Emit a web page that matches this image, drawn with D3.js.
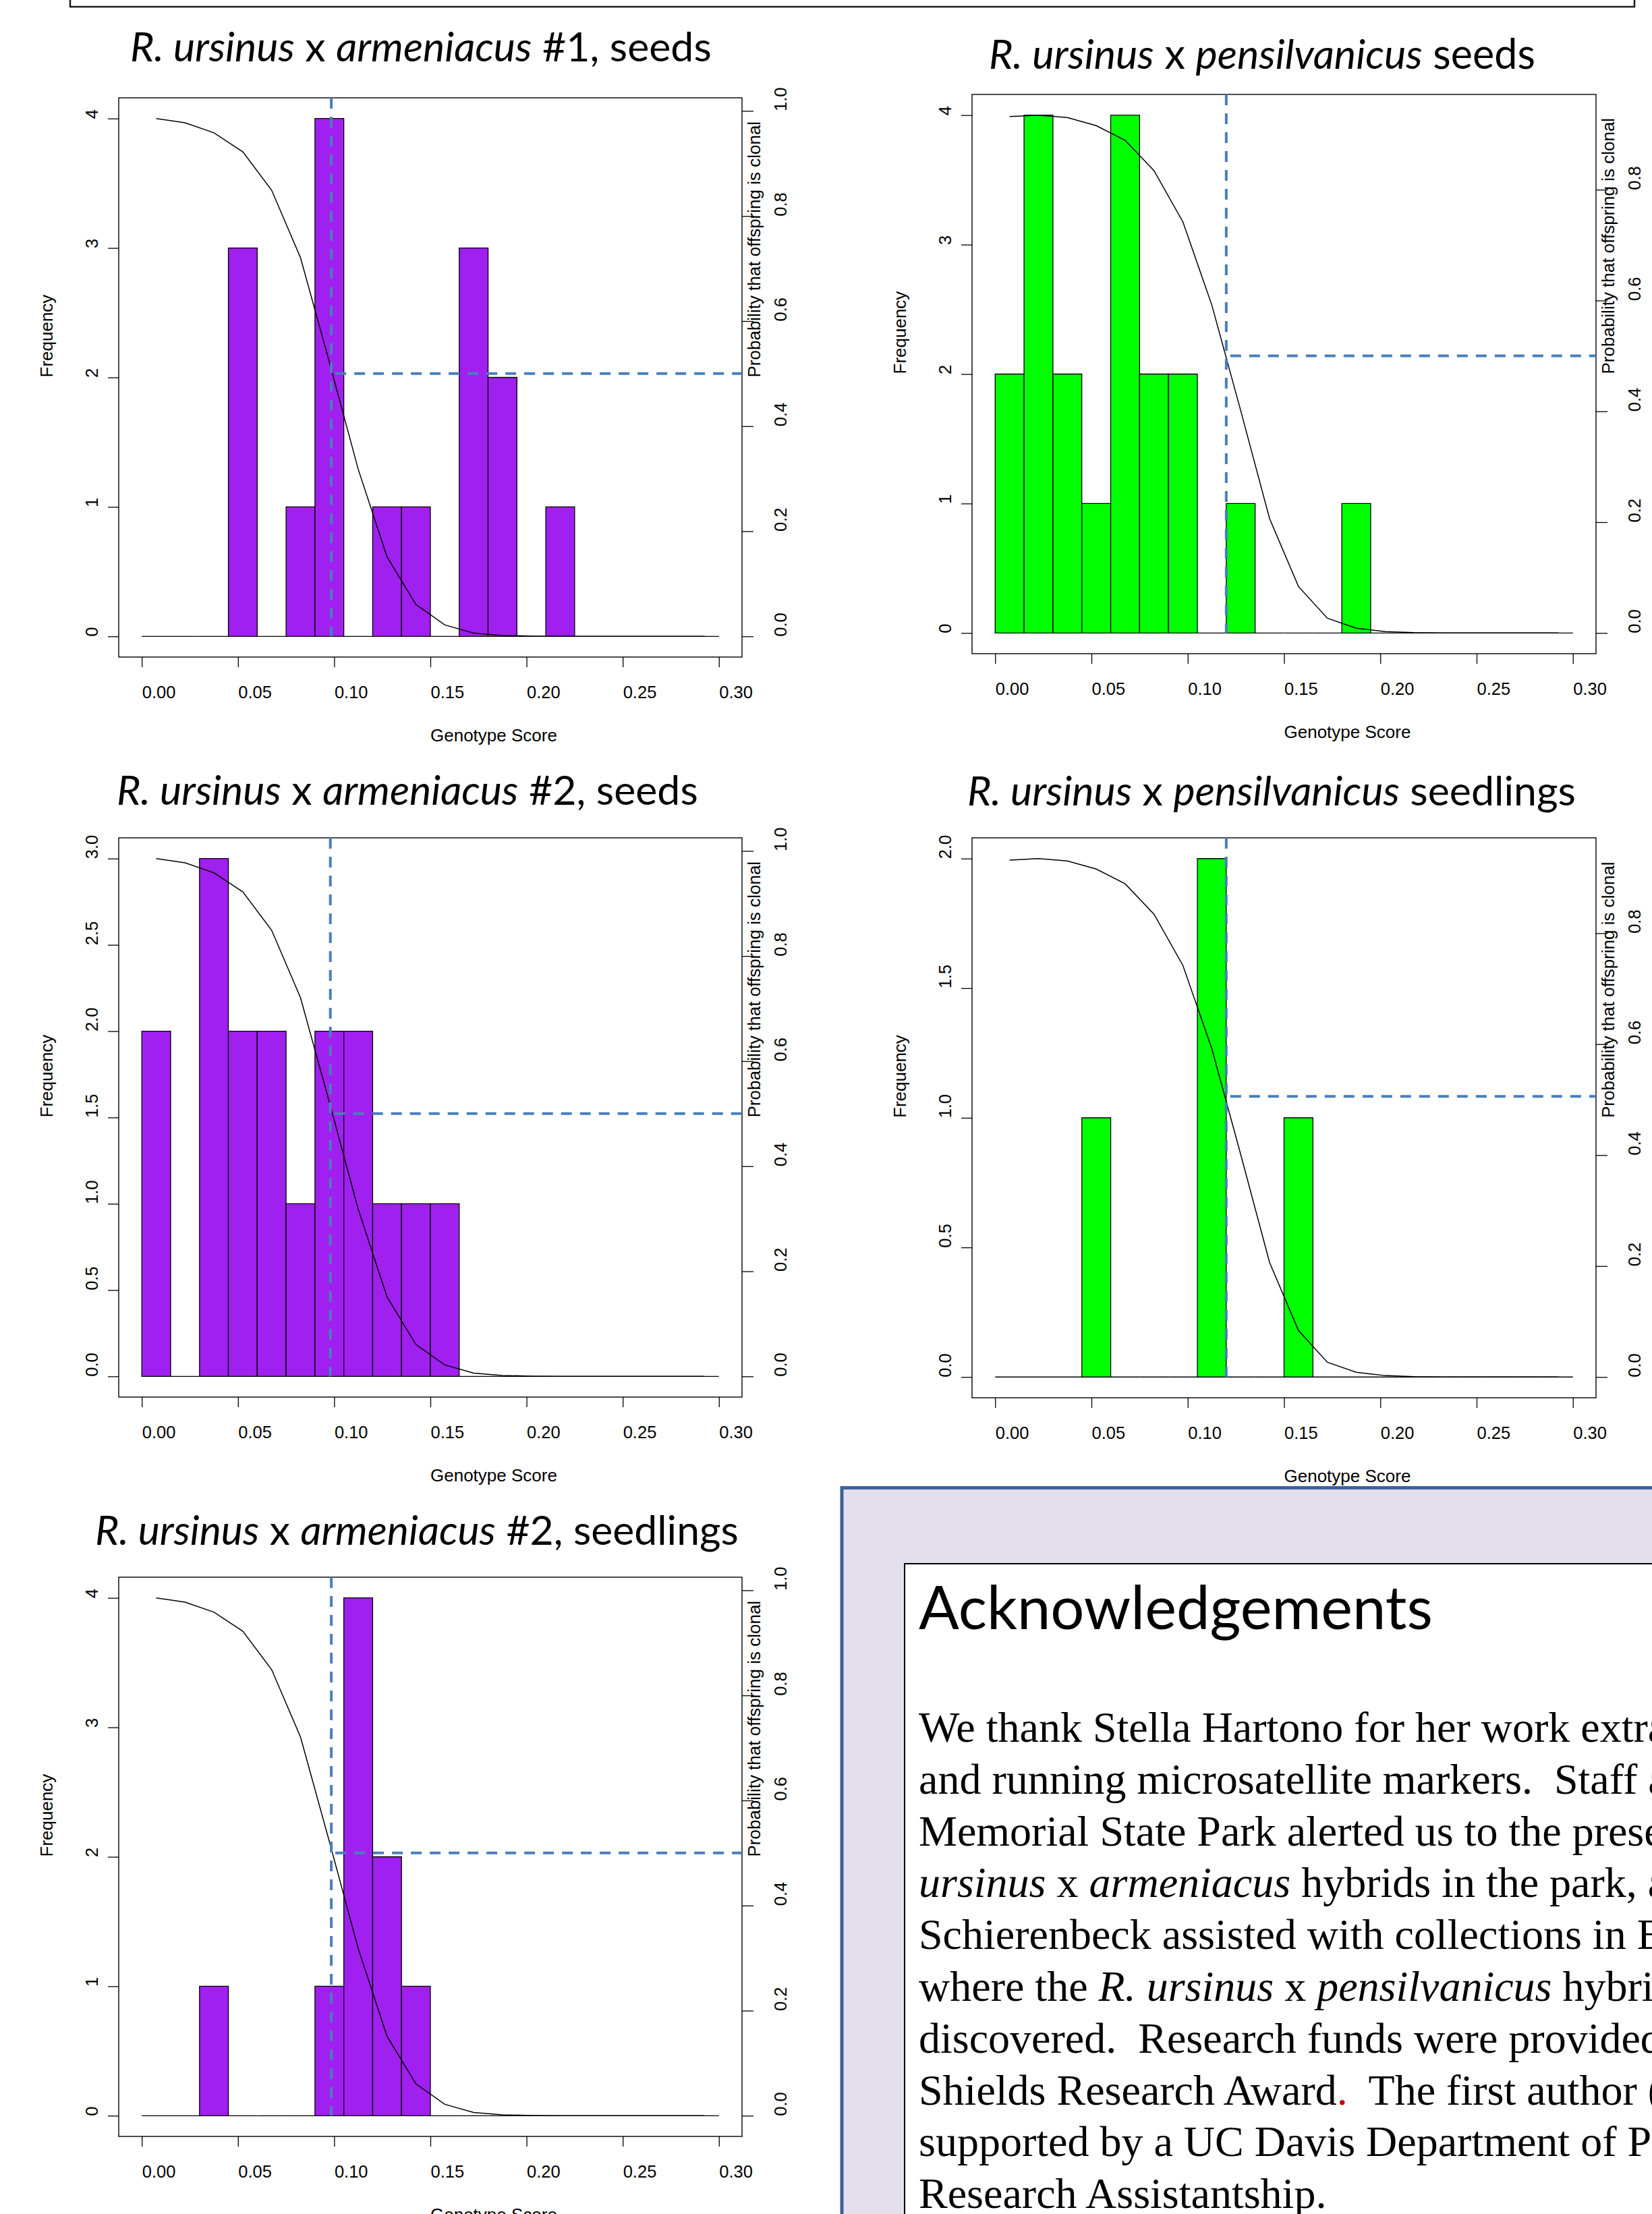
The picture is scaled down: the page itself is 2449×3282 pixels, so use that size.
<!DOCTYPE html>
<html>
<head>
<meta charset="utf-8">
<script src="https://cdn.jsdelivr.net/npm/d3@7"></script>
<style>
html, body { margin: 0; padding: 0; background: #fff; }
svg { display: block; }
text { white-space: pre; }
</style>
</head>
<body>
<svg id="chart" width="2449" height="3282"></svg>
<script>
// ---------------- DATA ----------------
// histogram bin edges (Genotype Score)
const binEdges = [0, 0.015, 0.03, 0.045, 0.06, 0.075, 0.09, 0.105, 0.12, 0.135, 0.15,
                  0.165, 0.18, 0.195, 0.21, 0.225, 0.24, 0.255, 0.27, 0.285, 0.30];
// bin midpoints, where the probability curve is evaluated
const curveX = [0.0075, 0.0225, 0.0375, 0.0525, 0.0675, 0.0825, 0.0975, 0.1125, 0.1275, 0.1425,
                0.1575, 0.1725, 0.1875, 0.2025, 0.2175, 0.2325, 0.2475, 0.2625, 0.2775, 0.2925];

// frequencies per bin
const countsArm1Seeds      = [0, 0, 0, 3, 0, 1, 4, 0, 1, 1, 0, 3, 2, 0, 1, 0, 0, 0, 0, 0];
const countsPensSeeds      = [2, 4, 2, 1, 4, 2, 2, 0, 1, 0, 0, 0, 1, 0, 0, 0, 0, 0, 0, 0];
const countsArm2Seeds      = [2, 0, 3, 2, 2, 1, 2, 2, 1, 1, 1, 0, 0, 0, 0, 0, 0, 0, 0, 0];
const countsPensSeedlings  = [0, 0, 0, 1, 0, 0, 0, 2, 0, 0, 1, 0, 0, 0, 0, 0, 0, 0, 0, 0];
const countsArm2Seedlings  = [0, 0, 1, 0, 0, 0, 1, 4, 2, 1, 0, 0, 0, 0, 0, 0, 0, 0, 0, 0];

// probability that offspring is clonal
const curveArmeniacus   = [0.9855, 0.9774, 0.9584, 0.9222, 0.849, 0.7206, 0.5217, 0.318, 0.151, 0.0606,
                           0.0217, 0.0063, 0.0018, 0.0004, 0, 0, 0, 0, 0, 0];
const curvePensilvanicus = [0.9319, 0.9345, 0.9302, 0.9156, 0.889, 0.8343, 0.7418, 0.5919, 0.4013, 0.2064,
                            0.0839, 0.0266, 0.0086, 0.0026, 0.0007, 0, 0, 0, 0, 0];

// thresholds (genotype score, probability) marked by the dashed lines
const thresholdArm1Seeds     = [0.0985, 0.5];
const thresholdPensSeeds     = [0.12, 0.5];
const thresholdArm2Seeds     = [0.098, 0.5];
const thresholdPensSeedlings = [0.12, 0.506];
const thresholdArm2Seedlings = [0.0985, 0.5];

// tick values / labels
const xTicks = [0, 0.05, 0.10, 0.15, 0.20, 0.25, 0.30];
const xTickLabels = ["0.00", "0.05", "0.10", "0.15", "0.20", "0.25", "0.30"];
const freqTicksInt = [0, 1, 2, 3, 4];
const freqLabelsInt = ["0", "1", "2", "3", "4"];
const freqTicks3 = [0, 0.5, 1, 1.5, 2, 2.5, 3];
const freqLabels3 = ["0.0", "0.5", "1.0", "1.5", "2.0", "2.5", "3.0"];
const freqTicks2 = [0, 0.5, 1, 1.5, 2];
const freqLabels2 = ["0.0", "0.5", "1.0", "1.5", "2.0"];
const probTicks = [0, 0.2, 0.4, 0.6, 0.8, 1.0];
const probLabels = ["0.0", "0.2", "0.4", "0.6", "0.8", "1.0"];

// titles: [text, italic?]
const title1 = [["R. ursinus", true], [" x ", false], ["armeniacus", true], [" #1, seeds", false]];
const title2 = [["R. ursinus", true], [" x ", false], ["pensilvanicus", true], [" seeds", false]];
const title3 = [["R. ursinus", true], [" x ", false], ["armeniacus", true], [" #2, seeds", false]];
const title4 = [["R. ursinus", true], [" x ", false], ["pensilvanicus", true], [" seedlings", false]];
const title5 = [["R. ursinus", true], [" x ", false], ["armeniacus", true], [" #2, seedlings", false]];

const ackHeading = "Acknowledgements";
// segments: [text, style] style: n normal, i italic, r red
const ackLines = [
  [["We thank Stella Hartono for her work extra", "n"]],
  [["and running microsatellite markers.  Staff a", "n"]],
  [["Memorial State Park alerted us to the prese", "n"]],
  [["ursinus", "i"], [" x ", "n"], ["armeniacus", "i"], [" hybrids in the park, a", "n"]],
  [["Schierenbeck assisted with collections in B", "n"]],
  [["where the ", "n"], ["R. ursinus", "i"], [" x ", "n"], ["pensilvanicus", "i"], [" hybri", "n"]],
  [["discovered.  Research funds were provided", "n"]],
  [["Shields Research Award", "n"], [".", "r"], ["  The first author (", "n"]],
  [["supported by a UC Davis Department of Pl", "n"]],
  [["Research Assistantship.", "n"]]
];

// ---------------- LAYOUT ----------------
const panels = [
  { counts: countsArm1Seeds, curve: curveArmeniacus, thr: thresholdArm1Seeds, color: "#A020F0",
    fTicks: freqTicksInt, fLabels: freqLabelsInt, title: title1,
    left: 176, right: 1100, top: 145, bottom: 974, titleX: 193, titleY: 91, titleW: 862 },
  { counts: countsPensSeeds, curve: curvePensilvanicus, thr: thresholdPensSeeds, color: "#00FF00",
    fTicks: freqTicksInt, fLabels: freqLabelsInt, title: title2,
    left: 1441, right: 2366, top: 140, bottom: 969, titleX: 1466, titleY: 102, titleW: 810 },
  { counts: countsArm2Seeds, curve: curveArmeniacus, thr: thresholdArm2Seeds, color: "#A020F0",
    fTicks: freqTicks3, fLabels: freqLabels3, title: title3,
    left: 176, right: 1100, top: 1242, bottom: 2071, titleX: 173, titleY: 1193, titleW: 862 },
  { counts: countsPensSeedlings, curve: curvePensilvanicus, thr: thresholdPensSeedlings, color: "#00FF00",
    fTicks: freqTicks2, fLabels: freqLabels2, title: title4,
    left: 1441, right: 2366, top: 1242, bottom: 2072, titleX: 1434, titleY: 1194, titleW: 902 },
  { counts: countsArm2Seedlings, curve: curveArmeniacus, thr: thresholdArm2Seedlings, color: "#A020F0",
    fTicks: freqTicksInt, fLabels: freqLabelsInt, title: title5,
    left: 176, right: 1100, top: 2338, bottom: 3167, titleX: 141, titleY: 2290, titleW: 954 }
];

const AXIS_FONT = "'Liberation Sans', Arial, Helvetica, sans-serif";
const TITLE_FONT = "Lato, 'Open Sans', sans-serif";
const DASH_COLOR = "#4A7EBB";

const svg = d3.select("#chart");
svg.append("rect").attr("width", 2449).attr("height", 3282).attr("fill", "#fff");

// frame at the very top (bottom edge of a box above)
svg.append("rect").attr("x", 104).attr("y", -30).attr("width", 2319).attr("height", 40)
  .attr("fill", "none").attr("stroke", "#1a1a1a").attr("stroke-width", 2.5);

function fitWidth(sel, target) {
  const w = sel.node().getComputedTextLength();
  const fs = parseFloat(sel.attr("font-size"));
  if (w > 0) sel.attr("font-size", fs * target / w);
}

panels.forEach(p => {
  const g = svg.append("g");
  const x = d3.scaleLinear().domain([-0.012, 0.312]).range([p.left, p.right]);
  const M = d3.max(p.counts);
  const y = d3.scaleLinear().domain([-0.04 * M, 1.04 * M]).range([p.bottom, p.top]);
  const P = d3.max(p.curve);
  const y2 = d3.scaleLinear().domain([-0.04 * P, 1.04 * P]).range([p.bottom, p.top]);

  // histogram bars (zero-height bins draw as a baseline segment)
  const bins = p.counts.map((c, i) => ({ x0: binEdges[i], x1: binEdges[i + 1], c }));
  g.append("g").selectAll("path").data(bins).join("path")
    .attr("d", d => `M${x(d.x0)},${y(0)}V${y(d.c)}H${x(d.x1)}V${y(0)}Z`)
    .attr("fill", d => d.c > 0 ? p.color : "none")
    .attr("stroke", "#000").attr("stroke-width", 1.3);

  // probability curve
  const line = d3.line().x(d => x(d[0])).y(d => y2(d[1]));
  g.append("path").datum(curveX.map((v, i) => [v, p.curve[i]]))
    .attr("d", line).attr("fill", "none").attr("stroke", "#000").attr("stroke-width", 1.5);

  // box
  g.append("rect").attr("x", p.left).attr("y", p.top)
    .attr("width", p.right - p.left).attr("height", p.bottom - p.top)
    .attr("fill", "none").attr("stroke", "#000").attr("stroke-width", 1.4);

  // bottom axis
  const ax = g.append("g").attr("transform", `translate(0,${p.bottom})`)
    .call(d3.axisBottom(x).tickValues(xTicks).tickFormat((d, i) => xTickLabels[i]).tickSize(15).tickSizeOuter(0));
  ax.select(".domain").remove();
  ax.selectAll("line").attr("stroke", "#000").attr("stroke-width", 1.3);
  ax.selectAll("text").attr("y", 61).attr("dy", null).attr("text-anchor", "start")
    .attr("fill", "#000").attr("font-size", 25.5).attr("font-family", AXIS_FONT);

  // left axis (frequency)
  const ay = g.append("g").attr("transform", `translate(${p.left},0)`)
    .call(d3.axisLeft(y).tickValues(p.fTicks).tickFormat((d, i) => p.fLabels[i]).tickSize(16).tickSizeOuter(0));
  ay.select(".domain").remove();
  ay.selectAll("line").attr("stroke", "#000").attr("stroke-width", 1.3);
  ay.selectAll("text").attr("x", null).attr("dy", null).attr("text-anchor", "start")
    .attr("transform", "translate(-31,0) rotate(-90)")
    .attr("fill", "#000").attr("font-size", 25.5).attr("font-family", AXIS_FONT);

  // right axis (probability)
  const pt = probTicks.filter(v => v <= 1.04 * P);
  const ar = g.append("g").attr("transform", `translate(${p.right},0)`)
    .call(d3.axisRight(y2).tickValues(pt).tickFormat(d => probLabels[probTicks.indexOf(d)]).tickSize(17).tickSizeOuter(0));
  ar.select(".domain").remove();
  ar.selectAll("line").attr("stroke", "#000").attr("stroke-width", 1.3);
  ar.selectAll("text").attr("x", null).attr("dy", null).attr("text-anchor", "start")
    .attr("transform", "translate(66,0) rotate(-90)")
    .attr("fill", "#000").attr("font-size", 25.5).attr("font-family", AXIS_FONT);

  const cy = (p.top + p.bottom) / 2;
  // axis titles
  g.append("text").attr("x", (x(0) + x(0.3)) / 2).attr("y", p.bottom + 125)
    .attr("font-family", AXIS_FONT).attr("font-size", 26).attr("fill", "#000")
    .text("Genotype Score");
  g.append("text").attr("transform", `translate(${p.left - 98},${cy}) rotate(-90)`)
    .attr("font-family", AXIS_FONT).attr("font-size", 26).attr("fill", "#000")
    .text("Frequency");
  g.append("text").attr("transform", `translate(${p.right + 27},${cy}) rotate(-90)`)
    .attr("font-family", AXIS_FONT).attr("font-size", 26).attr("fill", "#000")
    .text("Probability that offspring is clonal");

  // dashed threshold lines
  g.append("line").attr("x1", x(p.thr[0])).attr("x2", x(p.thr[0]))
    .attr("y1", p.top).attr("y2", y(0))
    .attr("stroke", DASH_COLOR).attr("stroke-width", 4).attr("stroke-dasharray", "16,12");
  g.append("line").attr("x1", x(p.thr[0]) + 6).attr("x2", p.right)
    .attr("y1", y2(p.thr[1])).attr("y2", y2(p.thr[1]))
    .attr("stroke", DASH_COLOR).attr("stroke-width", 4).attr("stroke-dasharray", "16,12");

  // title
  const t = svg.append("text").attr("x", p.titleX).attr("y", p.titleY)
    .attr("font-family", TITLE_FONT).attr("font-size", 58).attr("fill", "#000");
  t.selectAll("tspan").data(p.title).join("tspan")
    .attr("font-style", d => d[1] ? "italic" : "normal").text(d => d[0]);
  fitWidth(t, p.titleW);
});

// ---------------- Acknowledgements panel ----------------
svg.append("rect").attr("x", 1248).attr("y", 2205.5).attr("width", 1300).attr("height", 1200)
  .attr("fill", "#E4DFEC").attr("stroke", "#3C6399").attr("stroke-width", 5);
svg.append("rect").attr("x", 1341).attr("y", 2318).attr("width", 1300).attr("height", 1200)
  .attr("fill", "#fff").attr("stroke", "#000").attr("stroke-width", 2);

const head = svg.append("text").attr("x", 1362).attr("y", 2415)
  .attr("font-family", TITLE_FONT).attr("font-size", 84).attr("fill", "#000").text(ackHeading);
fitWidth(head, 762);

const body = svg.append("g").attr("font-family", "'Liberation Serif', 'Times New Roman', serif")
  .attr("font-size", 64).attr("fill", "#000");
ackLines.forEach((segs, i) => {
  const tx = body.append("text").attr("x", 1362).attr("y", 2582 + i * 76.8);
  tx.selectAll("tspan").data(segs).join("tspan")
    .attr("font-style", d => d[1] === "i" ? "italic" : "normal")
    .attr("fill", d => d[1] === "r" ? "#C00000" : "#000")
    .text(d => d[0]);
});
</script>
</body>
</html>
